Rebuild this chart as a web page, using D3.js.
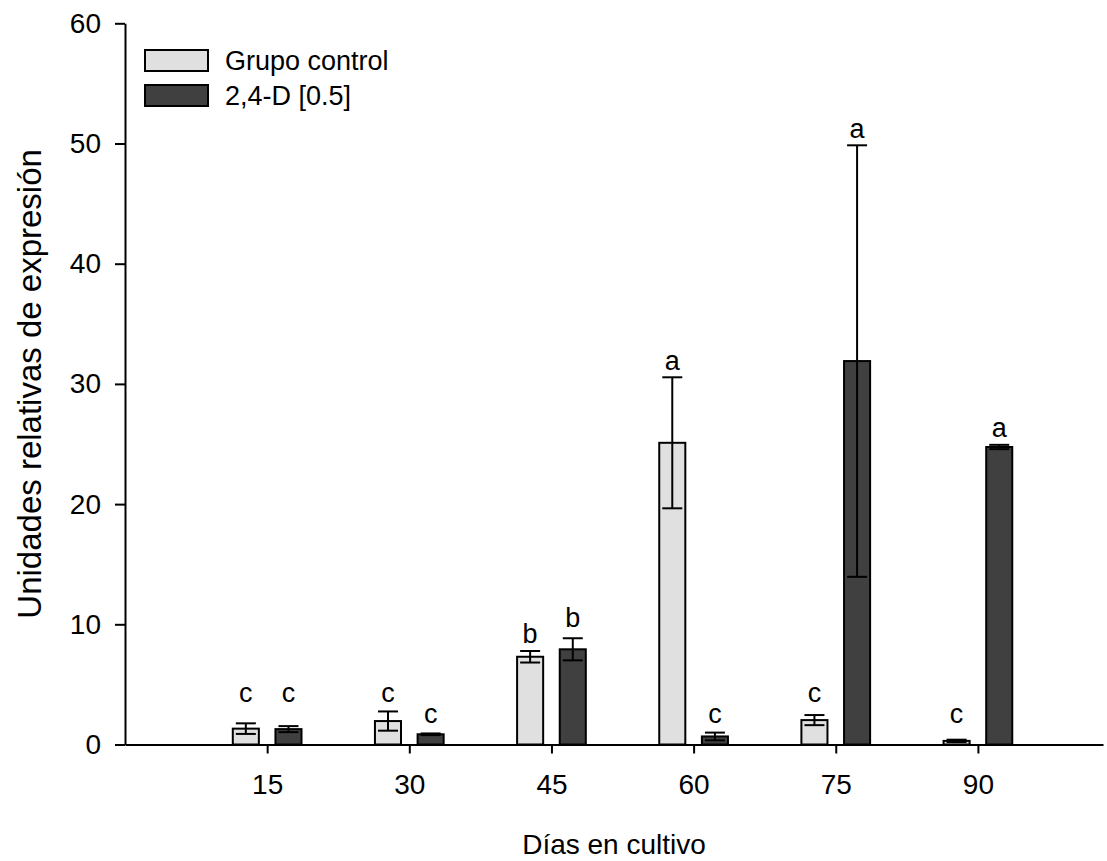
<!DOCTYPE html>
<html>
<head>
<meta charset="utf-8">
<script src="https://cdn.jsdelivr.net/npm/d3@7"></script>
<style>
    body { margin: 0; background: #fff; }
    svg text { font-family: "Liberation Sans", Arial, sans-serif; fill: #000; }
</style>
</head>
<body>
<div id="chart"></div>
<script>

// dias de cultivo
var days = [15, 30, 45, 60, 75, 90];

// medias y error estandar, grupo control
var control_mean = [1.32, 1.95, 7.3, 25.1, 2.03, 0.3];
var control_err = [0.44, 0.8, 0.48, 5.45, 0.42, 0.1];

// 2,4-D [0.5]
var treat_mean = [1.28, 0.85, 7.92, 0.67, 31.9, 24.75];
var treat_err = [0.25, 0.07, 0.92, 0.32, 17.95, 0.18];

// letras de significancia y altura (en unidades de y) donde van
var control_letter = ["c", "c", "b", "a", "c", "c"];
var control_letter_y = [3.56, 3.56, 8.44, 31.16, 3.56, 1.79];
var treat_letter = ["c", "c", "b", "c", "a", "a"];
var treat_letter_y = [3.56, 1.79, 9.78, 1.82, 50.46, 25.58];

var y_ticks = [0, 10, 20, 30, 40, 50, 60];

var series_names = ["Grupo control", "2,4-D [0.5]"];
var series_colors = ["#e0e0e0", "#404040"];

var width = 1107, height = 861;

var svg = d3.select("#chart").append("svg")
	.attr("width", width)
	.attr("height", height);

var x = d3.scaleLinear()
	.domain([0, 103.2])
	.range([125, 1103]);

var y = d3.scaleLinear()
	.domain([0, 60])
	.range([744.5, 23.3]);

var bar_w = x(2.75) - x(0);
var bar_off = x(2.25) - x(0);
var cap_w = 20;

var rows = days.map(function(d, i){
    return [
	{ day: d, k: 0, mean: control_mean[i], err: control_err[i],
	  letter: control_letter[i], ly: control_letter_y[i] },
	{ day: d, k: 1, mean: treat_mean[i], err: treat_err[i],
	  letter: treat_letter[i], ly: treat_letter_y[i] }
    ];
}).flat();

var cx = function(d){
    return x(d.day) + (d.k == 0 ? -bar_off : bar_off);
};

// barras
svg.append("g").selectAll("rect")
    .data(rows)
    .enter()
    .append("rect")
    .attr("x", function(d){ return cx(d) - bar_w / 2; })
    .attr("y", function(d){ return y(d.mean); })
    .attr("width", bar_w)
    .attr("height", function(d){ return y(0) - y(d.mean); })
    .attr("fill", function(d){ return series_colors[d.k]; })
    .attr("stroke", "#000")
    .attr("stroke-width", 2);

// barras de error
var eb = svg.append("g")
	.attr("stroke", "#000")
	.attr("stroke-width", 2)
	.selectAll("g")
	.data(rows)
	.enter()
	.append("g");

eb.append("line")
    .attr("x1", cx).attr("x2", cx)
    .attr("y1", function(d){ return y(d.mean + d.err); })
    .attr("y2", function(d){ return y(d.mean - d.err); });

eb.append("line")
    .attr("x1", function(d){ return cx(d) - cap_w / 2; })
    .attr("x2", function(d){ return cx(d) + cap_w / 2; })
    .attr("y1", function(d){ return y(d.mean + d.err); })
    .attr("y2", function(d){ return y(d.mean + d.err); });

eb.append("line")
    .attr("x1", function(d){ return cx(d) - cap_w / 2; })
    .attr("x2", function(d){ return cx(d) + cap_w / 2; })
    .attr("y1", function(d){ return y(d.mean - d.err); })
    .attr("y2", function(d){ return y(d.mean - d.err); });

// letras
svg.append("g").selectAll("text")
    .data(rows)
    .enter()
    .append("text")
    .attr("x", cx)
    .attr("y", function(d){ return y(d.ly); })
    .attr("text-anchor", "middle")
    .style("font-size", "27px")
    .text(function(d){ return d.letter; });

// ejes
var yaxis = svg.append("g")
	.attr("transform", "translate(" + x(0) + ",0)")
	.call(d3.axisLeft(y).tickValues(y_ticks).tickSize(10).tickPadding(14).tickSizeOuter(0));

var xaxis = svg.append("g")
	.attr("transform", "translate(0," + y(0) + ")")
	.call(d3.axisBottom(x).tickValues(days).tickSize(9).tickPadding(21).tickSizeOuter(0));

[yaxis, xaxis].forEach(function(a){
    a.select(".domain").attr("stroke-width", 2);
    a.selectAll(".tick line").attr("stroke-width", 2);
    a.selectAll(".tick text")
	.style("font-size", "28px")
	.style("font-family", "'Liberation Sans', Arial, sans-serif");
});

// titulos de ejes
svg.append("text")
    .attr("transform", "translate(41," + ((y(0) + y(60)) / 2) + ") rotate(-90)")
    .attr("text-anchor", "middle")
    .style("font-size", "33px")
    .text("Unidades relativas de expresión");

svg.append("text")
    .attr("x", (x(0) + 1103) / 2)
    .attr("y", 854)
    .attr("text-anchor", "middle")
    .style("font-size", "28px")
    .text("Días en cultivo");

// leyenda
var legend = svg.append("g")
	.selectAll("g")
	.data(series_names)
	.enter()
	.append("g")
	.attr("transform", function(d, i){
	    return "translate(145," + (50 + i * 35) + ")";
	});

legend.append("rect")
    .attr("width", 63)
    .attr("height", 21)
    .attr("fill", function(d, i){ return series_colors[i]; })
    .attr("stroke", "#000")
    .attr("stroke-width", 2);

legend.append("text")
    .attr("x", 80)
    .attr("y", 20)
    .style("font-size", "27px")
    .text(function(d){ return d; });

</script>
</body>
</html>
